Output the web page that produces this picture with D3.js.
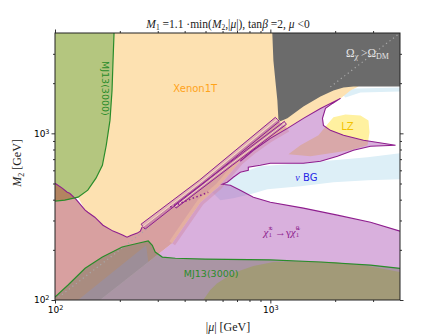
<!DOCTYPE html>
<html>
<head>
<meta charset="utf-8">
<script src="https://cdn.jsdelivr.net/npm/d3@7"></script>
<style>
  body { margin: 0; background: #fff; }
  svg { display: block; }
</style>
</head>
<body>
<div id="chart"></div>
<script>
// axis ranges, GeV
var muDomain = [100, 4000],
    m2Domain = [100, 4000];
var majorTicks = [100, 1000],
    minorTicks = [200, 300, 400, 500, 600, 700, 800, 900, 2000, 3000];

// region outlines, [|mu|, M2] in GeV
var greenCurve = [[188,4000],[186,2736],[184,1809],[180,1196],[173,848],[166,643],[155,538],[142,456],[128,414],[111,397],[100,392]];
var xenonEdge = [[100,502],[108,469],[114,443],[117,437],[125,403],[138,346],[142,336],[153,314],[167,281],[186,259],[196,252],[207,245],[216,238],[226,245],[241,252],[249,259],[254,274]];
var stripeBoundary = [[473,502],[1078,1196]];
var lavLeft = [[162,100],[350,219],[473,385],[575,480],[725,680],[834,791],[1000,933],[1200,1071],[1424,1230],[1709,1411],[2116,1621]];
var xenonCap = [[2355,1809],[2566,1911],[2566,4000]];
var tongueTop = [[2116,1621],[1943,1512],[1803,1411],[1746,1230],[1764,1117],[1901,1042],[2186,973],[2707,908],[3814,848]];
var tongueBottom = [[3814,848],[2918,836],[2432,791],[2049,728],[1709,680],[1424,661],[1000,661],[898,643],[790,626],[790,600],[725,584],[673,545],[631,509],[598,495]];
var lowerTop = [[598,495],[652,488],[725,456],[834,414],[1000,386],[1424,356],[2049,323],[2918,293],[4000,259]];
var stripeA = [[251,285],[468,523],[1055,1247],[1101,1180],[483,495],[262,266]];
var stripeACore = [[256,275],[475,509],[1078,1213]];
var stripeB = [[358,371],[652,671],[1162,1180],[1187,1132],[666,643],[365,356]];
var stripeBCore = [[361,363],[659,657],[1174,1156]];
var purpleDots = [[343,361],[515,443]];
var nuBand = [[537,443],[598,488],[725,576],[898,635],[1379,661],[1963,689],[2827,718],[4000,759],[4000,530],[2827,523],[1963,509],[1379,481],[969,462],[807,431],[673,408],[586,397]];
var nuThin = [[2116,1760],[2485,1860],[4000,1885],[4000,1785],[2621,1760],[2233,1643]];
var lzRegion = [[1213,749],[1379,848],[1673,973],[1841,1132],[1963,1247],[2233,1299],[2621,1281],[2856,1196],[2887,1014],[2827,848],[2355,791],[1901,759],[1535,728]];
var relicRegion = [[1021,4000],[4000,4000],[4000,1911],[2432,1911],[2186,1885],[1963,1809],[1709,1666],[1424,1451],[1200,1230],[1113,1180],[1090,1213],[1078,1576],[1055,2076],[1033,2736]];
var mj13Lower = [[100,104],[115,123],[138,155],[166,181],[205,208],[243,219],[271,226],[283,213],[292,194],[315,181],[362,178],[498,176],[1000,174],[1709,169],[2918,162],[4000,155]];
var khakiRegion = [[488,100],[526,115],[567,126],[673,145],[834,160],[1033,169],[1379,171],[1963,169],[2827,160],[4000,147],[4000,100]];
var bluishBand = [[128,100],[162,100],[271,169],[265,213]];
var diagSegs = [[100,280],[1900,4000]];

var width = 445, height = 334;

var svg = d3.select("#chart").append("svg")
    .attr("width", width)
    .attr("height", height);

var x = d3.scaleLog().domain(muDomain).range([55, 400]);
var y = d3.scaleLog().domain(m2Domain).range([300, 33]);

var line = d3.line().x(d => x(d[0])).y(d => y(d[1]));
function poly(pts) { return line(pts) + "Z"; }

svg.append("clipPath").attr("id", "plotclip")
  .append("rect")
    .attr("x", x(muDomain[0])).attr("y", y(m2Domain[1]))
    .attr("width", x(muDomain[1]) - x(muDomain[0]))
    .attr("height", y(m2Domain[0]) - y(m2Domain[1]));

var g = svg.append("g").attr("clip-path", "url(#plotclip)");
var purple = "#8e1e8e", green = "#2a8c2a";

// nu background band
g.append("path").attr("d", poly(nuBand)).attr("fill", "#ddeff7");
g.append("path").attr("d", poly(nuThin)).attr("fill", "#ddeff7");
// LZ
g.append("path").attr("d", poly(lzRegion)).attr("fill", "#fff1a0");

// Xenon1T
var xenonPts = greenCurve.slice(0, 9)
    .concat(xenonEdge.slice(5), stripeBoundary, lavLeft.slice(7), xenonCap);
g.append("path").attr("d", poly(xenonPts)).attr("fill", "#fde1b1");

// MJ13 (upper left)
g.append("path").attr("d", poly(greenCurve.concat([[100, 4000]]))).attr("fill", "#b4c67f");

// salmon region lower left
var pinkPts = xenonEdge.concat(stripeBoundary, lavLeft.slice(0, 8).reverse(), [[100, 100]]);
g.append("path").attr("d", poly(pinkPts)).attr("fill", "rgb(177,65,65)").attr("fill-opacity", 0.5);

// soft peach fringe along the diagonal edge
g.append("path").attr("d", line(lavLeft.slice(1, 8))).attr("fill", "none")
    .attr("stroke", "rgb(240,190,160)").attr("stroke-opacity", 0.5).attr("stroke-width", 7);

// chargino -> photon neutralino region
var purplePts = tongueTop.concat(tongueBottom.slice(1), lowerTop.slice(1), [[4000, 100]], lavLeft.slice(0, 10));
g.append("path").attr("d", poly(purplePts)).attr("fill", "rgb(170,80,180)").attr("fill-opacity", 0.45);

[[stripeA, stripeACore], [stripeB, stripeBCore]].forEach(function (s) {
    g.append("path").attr("d", poly(s[0]))
        .attr("fill", "rgb(170,80,180)").attr("fill-opacity", 0.3)
        .attr("stroke", purple).attr("stroke-width", 1);
    g.append("path").attr("d", line(s[1])).attr("fill", "none")
        .attr("stroke", "#fbe3c6").attr("stroke-width", 0.9);
});
g.append("path").attr("d", line(purpleDots)).attr("fill", "none")
    .attr("stroke", purple).attr("stroke-width", 1.6).attr("stroke-dasharray", "1.5,2.5");

// relic density
g.append("path").attr("d", poly(relicRegion)).attr("fill", "#6b6b6b");

// MJ13(3000) lower region
g.append("path").attr("d", poly(mj13Lower.concat([[4000, 100], [100, 100]])))
    .attr("fill", "rgb(100,110,80)").attr("fill-opacity", 0.4);
g.append("path").attr("d", poly(bluishBand)).attr("fill", "rgb(130,150,210)").attr("fill-opacity", 0.3);
g.append("path").attr("d", poly(khakiRegion)).attr("fill", "#a29a78");

// M2 = |mu| dotted
diagSegs.forEach(function (s) {
    g.append("path").attr("d", line([[s[0], s[0]], [s[1], s[1]]]))
        .attr("fill", "none").attr("stroke", "#a8a8a8")
        .attr("stroke-width", 1.2).attr("stroke-dasharray", "1.2,3.2");
});

// outlines
g.append("path").attr("d", line(xenonEdge)).attr("fill", "none")
    .attr("stroke", purple).attr("stroke-width", 1.1);
g.append("path").attr("d", line(lavLeft.slice(4).concat(tongueTop.slice(1), tongueBottom.slice(1), lowerTop.slice(1))))
    .attr("fill", "none").attr("stroke", purple).attr("stroke-width", 1.1);
g.append("path").attr("d", line(greenCurve)).attr("fill", "none")
    .attr("stroke", green).attr("stroke-width", 1.2);
g.append("path").attr("d", line(mj13Lower)).attr("fill", "none")
    .attr("stroke", green).attr("stroke-width", 1.2);

// axes
function styleAxis(sel) {
    sel.select(".domain").remove();
    sel.selectAll(".tick line").attr("stroke", "#000").attr("stroke-width", 0.8);
    sel.selectAll("text").attr("fill", "#000").attr("font-family", "DejaVu Sans").attr("font-size", 9);
}
function powLabel(sel) {
    sel.selectAll(".tick text").each(function (d) {
        var t = d3.select(this).text("");
        t.append("tspan").text("10");
        t.append("tspan").attr("dy", "-0.45em").attr("font-size", 6.5)
            .text(Math.round(Math.log10(d)));
    });
}
var fmtNone = () => "";
svg.append("g").attr("transform", "translate(0,300)")
    .call(d3.axisBottom(x).tickValues(majorTicks).tickSize(3.5).tickPadding(3))
    .call(styleAxis).call(powLabel);
svg.append("g").attr("transform", "translate(0,300)")
    .call(d3.axisBottom(x).tickValues(minorTicks).tickSize(2).tickFormat(fmtNone)).call(styleAxis);
svg.append("g").attr("transform", "translate(0,33)")
    .call(d3.axisTop(x).tickValues(majorTicks).tickSize(3.5).tickFormat(fmtNone)).call(styleAxis);
svg.append("g").attr("transform", "translate(0,33)")
    .call(d3.axisTop(x).tickValues(minorTicks).tickSize(2).tickFormat(fmtNone)).call(styleAxis);
svg.append("g").attr("transform", "translate(55,0)")
    .call(d3.axisLeft(y).tickValues(majorTicks).tickSize(3.5).tickPadding(2))
    .call(styleAxis).call(powLabel);
svg.append("g").attr("transform", "translate(55,0)")
    .call(d3.axisLeft(y).tickValues(minorTicks).tickSize(2).tickFormat(fmtNone)).call(styleAxis);
svg.append("g").attr("transform", "translate(400,0)")
    .call(d3.axisRight(y).tickValues(majorTicks).tickSize(3.5).tickFormat(fmtNone)).call(styleAxis);
svg.append("g").attr("transform", "translate(400,0)")
    .call(d3.axisRight(y).tickValues(minorTicks).tickSize(2).tickFormat(fmtNone)).call(styleAxis);

svg.append("rect")
    .attr("x", x(muDomain[0])).attr("y", y(m2Domain[1]))
    .attr("width", x(muDomain[1]) - x(muDomain[0]))
    .attr("height", y(m2Domain[0]) - y(m2Domain[1]))
    .attr("fill", "none").attr("stroke", "#222").attr("stroke-width", 1);

// labels
var serif = "Liberation Serif";
var title = svg.append("text").attr("x", 228).attr("y", 28)
    .attr("text-anchor", "middle").attr("font-family", serif).attr("font-size", 11.5).attr("fill", "#222");
title.append("tspan").attr("font-style", "italic").text("M");
title.append("tspan").attr("font-size", 7.5).attr("dy", 2).text("1");
title.append("tspan").attr("dy", -2).text(" =1.1 \u00b7min(");
title.append("tspan").attr("font-style", "italic").text("M");
title.append("tspan").attr("font-size", 7.5).attr("dy", 2).text("2");
title.append("tspan").attr("dy", -2).text(",|");
title.append("tspan").attr("font-style", "italic").text("\u03bc");
title.append("tspan").text("|), tan");
title.append("tspan").attr("font-style", "italic").text("\u03b2");
title.append("tspan").text(" =2, ");
title.append("tspan").attr("font-style", "italic").text("\u03bc");
title.append("tspan").text(" <0");

var xl = svg.append("text").attr("x", 228).attr("y", 331)
    .attr("text-anchor", "middle").attr("font-family", serif).attr("font-size", 12).attr("fill", "#222");
xl.append("tspan").text("|");
xl.append("tspan").attr("font-style", "italic").text("\u03bc");
xl.append("tspan").text("|  [GeV]");

var yl = svg.append("text").attr("transform", "translate(21,163) rotate(-90)")
    .attr("text-anchor", "middle").attr("font-family", serif).attr("font-size", 12).attr("fill", "#222");
yl.append("tspan").attr("font-style", "italic").text("M");
yl.append("tspan").attr("font-size", 8).attr("dy", 2.5).text("2");
yl.append("tspan").attr("dy", -2.5).text("  [GeV]");

function label(pt, txt, color, size, rot) {
    var t = svg.append("text")
        .attr("transform", "translate(" + x(pt[0]) + "," + y(pt[1]) + ")" + (rot ? " rotate(" + rot + ")" : ""))
        .attr("text-anchor", "middle").attr("dominant-baseline", "central")
        .attr("font-family", "DejaVu Sans").attr("font-size", size).attr("fill", color);
    if (txt) t.text(txt);
    return t;
}
label([448, 1850], "Xenon1T", "#ffa31a", 10);
label([171, 1860], "MJ13(3000)", green, 9.5, 90);
label([531, 145], "MJ13(3000)", green, 9.5);
label([2281, 1101], "LZ", "#f2c200", 10);
var nu = label([1470, 545], null, "#2626e6", 10);
nu.append("tspan").attr("font-family", serif).attr("font-style", "italic").text("\u03bd");
nu.append("tspan").text(" BG");

var chi = label([1125, 255], null, purple, 11);
chi.attr("font-family", serif);
chi.append("tspan").attr("font-style", "italic").text("\u03c7\u0303");
chi.append("tspan").attr("font-size", 7).attr("dy", 3).text("1");
chi.append("tspan").attr("font-size", 7).attr("dx", -3.5).attr("dy", -7.5).text("\u00b1");
chi.append("tspan").attr("dy", 4.5).text(" \u2192\u03b3");
chi.append("tspan").attr("font-style", "italic").text("\u03c7\u0303");
chi.append("tspan").attr("font-size", 7).attr("dy", 3).text("1");
chi.append("tspan").attr("font-size", 7).attr("dx", -3.5).attr("dy", -7.5).text("0");

var om = label([2827, 3055], null, "#e6e6e6", 11.5);
om.attr("font-family", serif);
om.append("tspan").text("\u03a9");
om.append("tspan").attr("font-size", 8).attr("dy", 3).attr("font-style", "italic").text("\u03c7");
om.append("tspan").attr("dy", -3).text(" >\u03a9");
om.append("tspan").attr("font-size", 8).attr("dy", 3).text("DM");
</script>
</body>
</html>
